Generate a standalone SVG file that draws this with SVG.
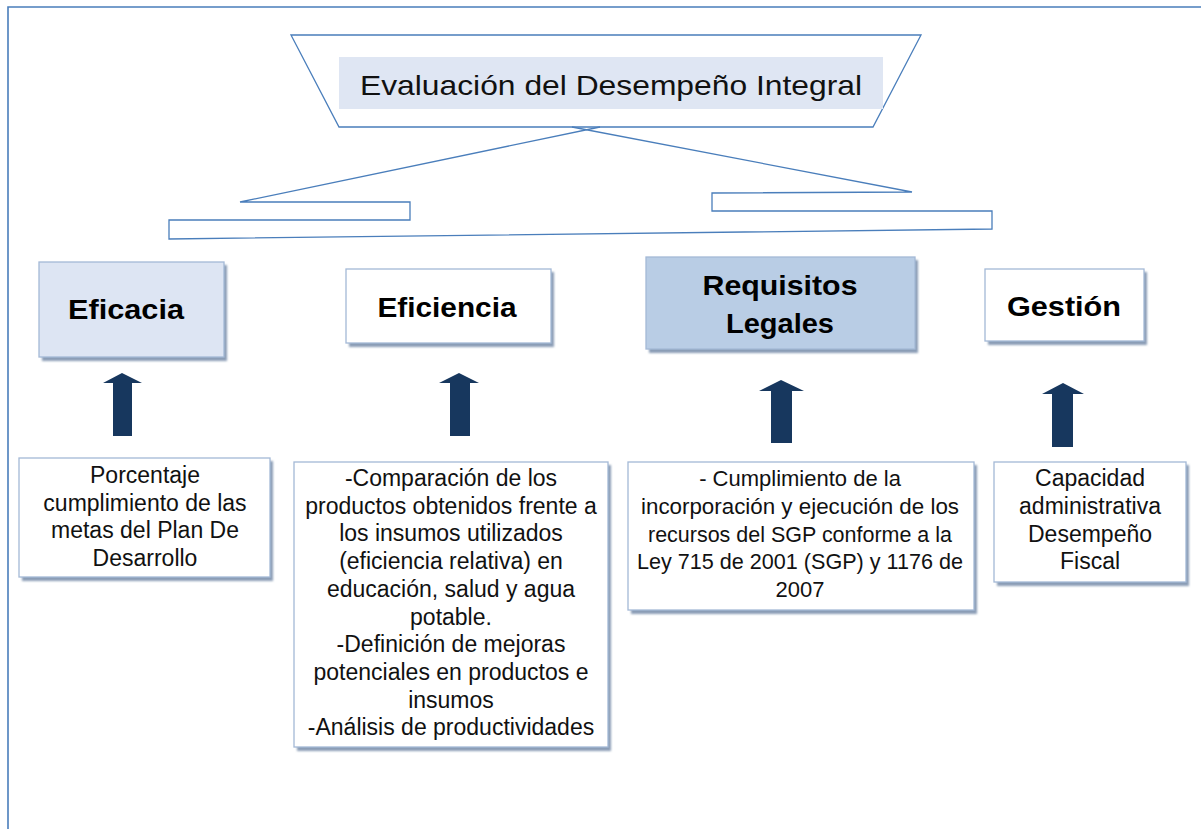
<svg xmlns="http://www.w3.org/2000/svg" width="1201" height="829" viewBox="0 0 1201 829">
<style>
.frame{fill:none;stroke:#4a7ebb;stroke-width:1.6}
.ln{fill:none;stroke:#4a7ebb;stroke-width:1.3}
.box{stroke:#a4b9d6;stroke-width:1.3}
.shadow{fill:#8b9db6}
.lbl{font-family:"Liberation Sans",Arial,sans-serif;font-weight:bold;font-size:28px;fill:#000;text-anchor:middle}
.body{font-family:"Liberation Sans",Arial,sans-serif;font-size:23px;fill:#111;text-anchor:middle}
.sm{font-size:22px}
.title{font-family:"Liberation Sans",Arial,sans-serif;font-size:28px;fill:#111}
.arrow{fill:#17375e}
</style>
<defs>
<filter id="blur" x="-5%" y="-5%" width="110%" height="110%"><feGaussianBlur stdDeviation="1"/></filter>
</defs>
<rect width="1201" height="829" fill="#ffffff"/>
<path class="frame" d="M8,829 L8,7 L1201,7"/>

<g id="title">
<polygon class="ln" points="291,35 921,35 873,127 339,127"/>
<rect x="339" y="57" width="544" height="52" fill="#dfe6f3"/>
<text class="title" x="360" y="95" textLength="502" lengthAdjust="spacingAndGlyphs">Evaluación del Desempeño Integral</text>
</g>

<g id="connectors">
<polyline class="ln" points="600,127 240,202 410,202 410,220 169,220 169,239 992,229 992,211 712,211 712,193 912,192 572,127"/>
<polygon class="arrow" points="122,373 142,383 132,383 132,436 113,436 113,383 103,383"/>
<polygon class="arrow" points="459,373 479,383 470,383 470,436 450,436 450,383 439,383"/>
<polygon class="arrow" points="781,380 804,391 792,391 792,443 771,443 771,391 759,391"/>
<polygon class="arrow" points="1063,383 1084,394 1073,394 1073,447 1052,447 1052,394 1042,394"/>
</g>

<g id="eficacia">
<rect class="shadow" x="42" y="265" width="185" height="96" filter="url(#blur)"/>
<rect class="box" x="39" y="262" width="185" height="95" fill="#dde5f3"/>
<text class="lbl" x="126" y="319" textLength="116" lengthAdjust="spacingAndGlyphs">Eficacia</text>
</g>

<g id="eficiencia">
<rect class="shadow" x="349" y="272" width="205" height="75" filter="url(#blur)"/>
<rect class="box" x="346" y="269" width="205" height="74" fill="#ffffff"/>
<text class="lbl" x="447" y="317" textLength="139" lengthAdjust="spacingAndGlyphs">Eficiencia</text>
</g>

<g id="requisitos">
<rect class="shadow" x="649" y="260" width="269" height="93" filter="url(#blur)"/>
<rect class="box" x="646" y="257" width="269" height="92" fill="#b9cde5"/>
<text class="lbl" x="780" y="295" textLength="155" lengthAdjust="spacingAndGlyphs">Requisitos</text>
<text class="lbl" x="780" y="333" textLength="108" lengthAdjust="spacingAndGlyphs">Legales</text>
</g>

<g id="gestion">
<rect class="shadow" x="988" y="272" width="159" height="73" filter="url(#blur)"/>
<rect class="box" x="985" y="269" width="159" height="72" fill="#ffffff"/>
<text class="lbl" x="1064" y="316" textLength="114" lengthAdjust="spacingAndGlyphs">Gestión</text>
</g>

<g id="porcentaje">
<rect class="shadow" x="22" y="461" width="251" height="120" filter="url(#blur)"/>
<rect class="box" x="19" y="458" width="251" height="119" fill="#ffffff"/>
<text class="body" x="145" y="483">Porcentaje</text>
<text class="body" x="145" y="510.5">cumplimiento de las</text>
<text class="body" x="145" y="538">metas del Plan De</text>
<text class="body" x="145" y="565.5">Desarrollo</text>
</g>

<g id="comparacion">
<rect class="shadow" x="297" y="465" width="314" height="286" filter="url(#blur)"/>
<rect class="box" x="294" y="462" width="314" height="285" fill="#ffffff"/>
<text class="body" x="451" y="486">-Comparación de los</text>
<text class="body" x="451" y="513.7">productos obtenidos frente a</text>
<text class="body" x="451" y="541.4">los insumos utilizados</text>
<text class="body" x="451" y="569.1">(eficiencia relativa) en</text>
<text class="body" x="451" y="596.8">educación, salud y agua</text>
<text class="body" x="451" y="624.5">potable.</text>
<text class="body" x="451" y="652.2">-Definición de mejoras</text>
<text class="body" x="451" y="679.9">potenciales en productos e</text>
<text class="body" x="451" y="707.6">insumos</text>
<text class="body" x="451" y="735.3">-Análisis de productividades</text>
</g>

<g id="cumplimiento">
<rect class="shadow" x="631" y="465" width="346" height="149" filter="url(#blur)"/>
<rect class="box" x="628" y="462" width="346" height="148" fill="#ffffff"/>
<text class="body sm" x="800" y="486">- Cumplimiento de la</text>
<text class="body sm" x="800" y="513.8" textLength="318" lengthAdjust="spacingAndGlyphs">incorporación y ejecución de los</text>
<text class="body sm" x="800" y="541.6" textLength="304" lengthAdjust="spacingAndGlyphs">recursos del SGP conforme a la</text>
<text class="body sm" x="800" y="569.4" textLength="326" lengthAdjust="spacingAndGlyphs">Ley 715 de 2001 (SGP) y 1176 de</text>
<text class="body sm" x="800" y="597.2">2007</text>
</g>

<g id="capacidad">
<rect class="shadow" x="997" y="465" width="192" height="121" filter="url(#blur)"/>
<rect class="box" x="994" y="462" width="192" height="120" fill="#ffffff"/>
<text class="body" x="1090" y="486">Capacidad</text>
<text class="body" x="1090" y="513.8">administrativa</text>
<text class="body" x="1090" y="541.6">Desempeño</text>
<text class="body" x="1090" y="569.4">Fiscal</text>
</g>
</svg>
